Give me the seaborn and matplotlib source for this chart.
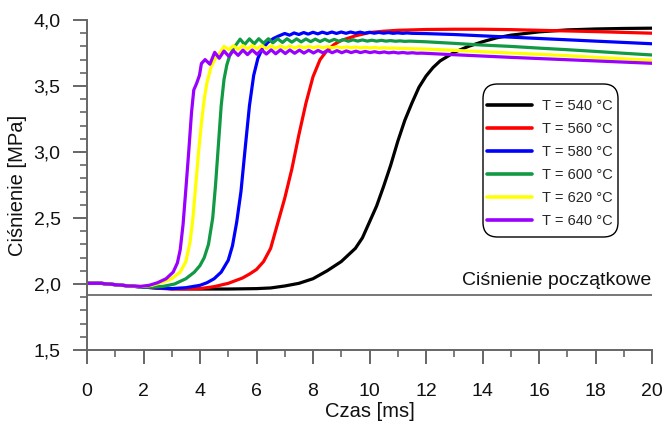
import numpy as np
import pandas as pd
import matplotlib
matplotlib.use("Agg")
import matplotlib.pyplot as plt
from matplotlib.ticker import MultipleLocator, FuncFormatter
from matplotlib.lines import Line2D
from matplotlib.patches import FancyBboxPatch
import seaborn as sns

# ---------------- data ----------------
t_540 = [0, 0.5, 1.0, 1.5, 1.9, 2.5, 3.0, 4.0, 5.0, 6.0, 6.5, 7.0, 7.5, 8.0, 8.5, 9.0,
         9.5, 9.75, 10.0, 10.25, 10.5, 10.75, 11.0, 11.25, 11.5, 11.75, 12.0, 12.25, 12.5,
         13.0, 13.5, 14.0, 14.5, 15.0, 16.0, 17.0, 18.0, 19.0, 20.0]
p_540 = [2.005, 2.005, 1.995, 1.985, 1.98, 1.97, 1.965, 1.962, 1.962, 1.965, 1.97, 1.985,
         2.005, 2.04, 2.10, 2.17, 2.27, 2.35, 2.47, 2.59, 2.74, 2.90, 3.08, 3.24, 3.37,
         3.49, 3.575, 3.64, 3.69, 3.755, 3.80, 3.835, 3.865, 3.885, 3.91, 3.925, 3.932,
         3.936, 3.938]

t_560 = [0, 0.5, 1.0, 1.5, 1.9, 2.5, 3.0, 3.5, 4.0, 4.5, 5.0, 5.5, 5.75, 6.0, 6.25, 6.5,
         6.75, 7.0, 7.25, 7.5, 7.75, 8.0, 8.25, 8.5, 8.75, 9.0, 9.5, 10.0, 10.5, 11.0, 12.0,
         13.0, 14.0, 15.0, 16.0, 17.0, 18.0, 19.0, 20.0]
p_560 = [2.005, 2.005, 1.995, 1.985, 1.978, 1.968, 1.962, 1.962, 1.965, 1.98, 2.005, 2.045,
         2.075, 2.11, 2.17, 2.27, 2.46, 2.65, 2.87, 3.13, 3.37, 3.57, 3.70, 3.77, 3.815,
         3.845, 3.88, 3.905, 3.915, 3.922, 3.928, 3.93, 3.93, 3.927, 3.922, 3.917, 3.912,
         3.906, 3.90]

t_580 = [0, 0.5, 1.0, 1.5, 1.9, 2.5, 3.0, 3.5, 4.0, 4.25, 4.5, 4.75, 5.0, 5.15, 5.3, 5.45,
         5.6, 5.75, 5.9, 6.05, 6.2, 6.4, 6.6, 6.8,
         7.0, 7.17, 7.33, 7.5, 7.67, 7.83, 8.0, 8.17, 8.33, 8.5, 8.67, 8.83, 9.0, 9.17,
         9.33, 9.5, 9.67, 9.83, 10.0, 10.17, 10.33, 10.5, 10.67, 10.83, 11.0, 11.17, 11.33,
         11.5, 12.0, 13.0, 14.0, 15.0, 16.0, 17.0, 18.0, 19.0, 20.0]
p_580 = [2.005, 2.005, 1.995, 1.985, 1.978, 1.97, 1.965, 1.972, 1.99, 2.01, 2.04, 2.09,
         2.18, 2.29, 2.47, 2.70, 3.03, 3.35, 3.58, 3.71, 3.78, 3.83, 3.86, 3.88,
         3.898, 3.885, 3.902, 3.89, 3.905, 3.893, 3.907, 3.895, 3.908, 3.897, 3.909, 3.898,
         3.909, 3.899, 3.909, 3.900, 3.908, 3.900, 3.907, 3.900, 3.906, 3.900, 3.905, 3.899,
         3.903, 3.899, 3.902, 3.899, 3.897, 3.89, 3.88, 3.87, 3.86, 3.85, 3.84, 3.83, 3.82]

t_600 = [0, 0.5, 1.0, 1.5, 1.9, 2.3, 2.7, 3.1, 3.5, 3.8, 4.0, 4.15, 4.3, 4.45, 4.55, 4.65,
         4.75, 4.85, 4.95, 5.05, 5.2,
         5.42, 5.58, 5.75, 5.92, 6.08, 6.25, 6.42, 6.58, 6.75, 6.92, 7.08, 7.25, 7.42, 7.58,
         7.75, 7.92, 8.08, 8.25, 8.42, 8.58, 8.75, 8.92, 9.08, 9.25, 9.42, 9.58, 9.75, 9.92,
         10.08, 10.25, 10.42, 10.58, 10.75, 10.92, 11.08, 11.25, 11.42,
         12.0, 13.0, 14.0, 15.0, 16.0, 17.0, 18.0, 19.0, 20.0]
p_600 = [2.005, 2.005, 1.995, 1.985, 1.978, 1.976, 1.982, 2.0, 2.04, 2.09, 2.14, 2.20,
         2.30, 2.50, 2.75, 3.05, 3.35, 3.55, 3.66, 3.73, 3.79,
         3.855, 3.815, 3.857, 3.820, 3.858, 3.824, 3.858, 3.827, 3.858, 3.830, 3.858, 3.832,
         3.857, 3.834, 3.856, 3.836, 3.855, 3.837, 3.854, 3.838, 3.853, 3.839, 3.852, 3.839,
         3.850, 3.840, 3.849, 3.840, 3.847, 3.840, 3.846, 3.840, 3.844, 3.839, 3.842, 3.838,
         3.840,
         3.835, 3.823, 3.81, 3.80, 3.787, 3.775, 3.762, 3.748, 3.735]

t_620 = [0, 0.5, 1.0, 1.5, 1.9, 2.3, 2.7, 3.0, 3.3, 3.5, 3.65, 3.75, 3.85, 3.95, 4.05, 4.15,
         4.25, 4.4, 4.55, 4.7,
         4.85, 5.02, 5.18, 5.35, 5.52, 5.68, 5.85, 6.02, 6.18, 6.35, 6.52, 6.68, 6.85, 7.02,
         7.18, 7.35, 7.52, 7.68, 7.85, 8.02, 8.18, 8.35, 8.52, 8.68, 8.85, 9.02, 9.18, 9.35,
         9.52, 9.68, 9.85, 10.02, 10.18, 10.35, 10.52, 10.68, 10.85, 11.02,
         12.0, 13.0, 14.0, 15.0, 16.0, 17.0, 18.0, 19.0, 20.0]
p_620 = [2.005, 2.005, 1.995, 1.985, 1.98, 1.99, 2.015, 2.04, 2.09, 2.17, 2.32, 2.50, 2.75,
         3.0, 3.22, 3.40, 3.53, 3.65, 3.71, 3.75,
         3.80, 3.775, 3.805, 3.778, 3.806, 3.780, 3.806, 3.782, 3.805, 3.784, 3.804, 3.786,
         3.803, 3.787, 3.802, 3.788, 3.801, 3.789, 3.800, 3.790, 3.799, 3.790, 3.798, 3.790,
         3.797, 3.790, 3.796, 3.790, 3.795, 3.789, 3.793, 3.788, 3.792, 3.787, 3.790, 3.786,
         3.788, 3.785,
         3.78, 3.77, 3.76, 3.75, 3.74, 3.73, 3.717, 3.706, 3.695]

t_640 = [0, 0.5, 1.0, 1.5, 1.9, 2.2, 2.5, 2.8, 3.05, 3.2, 3.3, 3.4, 3.5, 3.6, 3.7, 3.78,
         3.88, 3.98, 4.05,
         4.18, 4.35, 4.52, 4.68, 4.85, 5.02, 5.18, 5.35, 5.52, 5.68, 5.85, 6.02, 6.18, 6.35,
         6.52, 6.68, 6.85, 7.02, 7.18, 7.35, 7.52, 7.68, 7.85, 8.02, 8.18, 8.35, 8.52, 8.68,
         8.85, 9.02, 9.18, 9.35, 9.52, 9.68, 9.85, 10.02, 10.18, 10.35, 10.52, 10.68, 10.85,
         11.02, 11.18, 11.35, 11.52, 11.68, 11.85,
         12.5, 13.0, 14.0, 15.0, 16.0, 17.0, 18.0, 19.0, 20.0]
p_640 = [2.005, 2.005, 1.995, 1.985, 1.982, 1.99, 2.01, 2.04, 2.09, 2.16, 2.26, 2.45, 2.72,
         3.0, 3.30, 3.47, 3.52, 3.58, 3.67,
         3.700, 3.665, 3.755, 3.710, 3.765, 3.725, 3.768, 3.732, 3.772, 3.738, 3.773, 3.740,
         3.774, 3.742, 3.774, 3.744, 3.774, 3.746, 3.773, 3.748, 3.772, 3.749, 3.771, 3.750,
         3.770, 3.751, 3.769, 3.752, 3.768, 3.752, 3.766, 3.753, 3.764, 3.753, 3.762, 3.753,
         3.760, 3.752, 3.758, 3.751, 3.756, 3.750, 3.754, 3.749, 3.752, 3.748, 3.749,
         3.742, 3.737, 3.727, 3.717, 3.708, 3.699, 3.69, 3.681, 3.672]

labels = ["T = 540 °C", "T = 560 °C", "T = 580 °C", "T = 600 °C", "T = 620 °C", "T = 640 °C"]
colors = ["#000000", "#ff0000", "#0000ff", "#119944", "#ffff00", "#9900ff"]
initial_pressure = 1.92
initial_label = "Ciśnienie początkowe"
x_label = "Czas [ms]"
y_label = "Ciśnienie [MPa]"

series_t = [t_540, t_560, t_580, t_600, t_620, t_640]
series_p = [p_540, p_560, p_580, p_600, p_620, p_640]
frames = []
for lab, tt, pp in zip(labels, series_t, series_p):
    frames.append(pd.DataFrame({"t": tt, "p": pp, "T": lab}))
df = pd.concat(frames, ignore_index=True)

# ---------------- style ----------------
sns.set_style("ticks")
plt.rcParams["font.family"] = ["Liberation Sans", "DejaVu Sans"]

W, H = 665, 421
fig = plt.figure(figsize=(W / 100, H / 100), dpi=100)
ax = fig.add_axes([87 / W, 1 - 350 / H, 565 / W, 330 / H])

sns.lineplot(data=df, x="t", y="p", hue="T", hue_order=labels,
             palette=dict(zip(labels, colors)), sort=False, estimator=None,
             linewidth=2.3, legend=False, ax=ax)

ax.axhline(initial_pressure, color="#777777", lw=1.4, zorder=1)
ax.text(19.97, initial_pressure + 0.04, initial_label, ha="right", va="bottom",
        fontsize=14, color="#111111")

ax.set_xlim(0, 20)
ax.set_ylim(1.5, 4.0)
ax.xaxis.set_major_locator(MultipleLocator(2))
ax.xaxis.set_minor_locator(MultipleLocator(1))
ax.yaxis.set_major_locator(MultipleLocator(0.5))
ax.yaxis.set_minor_locator(MultipleLocator(0.1))
ax.yaxis.set_major_formatter(FuncFormatter(lambda v, _: f"{v:.1f}".replace(".", ",")))
ax.xaxis.set_major_formatter(FuncFormatter(lambda v, _: f"{v:.0f}"))

spine_col = "#666666"
for s in ["top", "right"]:
    ax.spines[s].set_visible(False)
for s in ["left", "bottom"]:
    ax.spines[s].set_color(spine_col)
    ax.spines[s].set_linewidth(1.4)

ax.tick_params(axis="both", which="major", length=10, width=1.4, color=spine_col,
               labelsize=14, labelcolor="#111111")
ax.tick_params(axis="both", which="minor", length=5, width=1.2, color=spine_col)
ax.tick_params(axis="x", which="major", pad=13.5)
ax.tick_params(axis="y", which="major", pad=9)

ax.set_xlabel(x_label, fontsize=14.5, color="#111111", labelpad=2)
ax.set_ylabel(y_label, fontsize=14.5, color="#111111", labelpad=5)

# legend: frame drawn separately to match the rounded box of the reference
frame = FancyBboxPatch((483 / W, 1 - 237 / H), 135 / W, 153 / H,
                       boxstyle="round,pad=0,rounding_size=0.022",
                       transform=fig.transFigure, facecolor="white",
                       edgecolor="black", linewidth=1.0, zorder=5,
                       mutation_aspect=W / H, clip_on=False)
ax.add_patch(frame)

handles = [Line2D([0], [0], color=c, lw=2.6) for c in colors]
leg = ax.legend(handles, labels, loc="upper left",
                bbox_to_anchor=(487 / W, 1 - 99 / H), bbox_transform=fig.transFigure,
                borderaxespad=0, borderpad=0, fontsize=10.5, handlelength=3.1,
                handletextpad=0.65, labelspacing=0.62, frameon=False)
leg.set_zorder(6)

fig.savefig("out.png", dpi=100)
